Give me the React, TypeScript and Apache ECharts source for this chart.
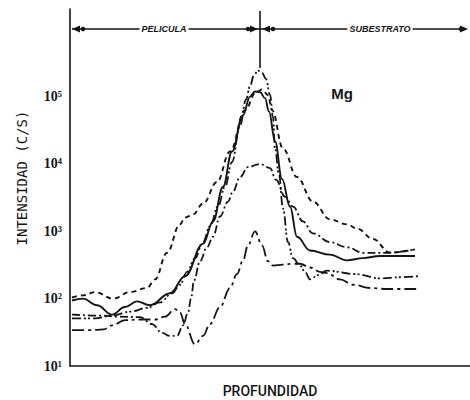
import React, { useEffect, useRef } from "react";
import * as echarts from "echarts";

// Depth (arbitrary units, 0-100) and intensity (counts/s) for each profile
const solidDepth = [0.5, 3.25, 6.75, 10.5, 13.75, 16.75, 20, 25, 28.75, 33.25, 35.75, 38.25, 40.5, 43.25, 45, 46.25, 47.5, 48.75, 49.75, 51.25, 53, 55, 56.75, 60, 65, 69.25, 73.25, 77.5, 86.25];
const solidCounts = [94, 100, 80, 58, 75, 91, 80, 120, 215, 650, 1400, 4600, 15300, 53000, 100000, 119000, 117000, 95000, 60000, 21800, 6000, 2330, 830, 520, 450, 370, 400, 430, 430];

const dashDepth = [0.5, 3.25, 6.25, 10.75, 15, 19.25, 21.25, 24.25, 27.5, 28.75, 30.75, 33.25, 36.75, 40, 43.75, 46.5, 48, 49.5, 50.5, 53.25, 56.75, 60.75, 65, 69.25, 71.75, 75.75, 80, 86.25];
const dashCounts = [104, 112, 125, 100, 125, 144, 193, 480, 1270, 1600, 1780, 2580, 5400, 15300, 63000, 115000, 128000, 105000, 63000, 17000, 6400, 2760, 1500, 1270, 1100, 770, 480, 540];

const dotDashDepth = [0.5, 7.5, 12.5, 17.5, 20.5, 23, 25, 26.75, 28.25, 29.5, 30.25, 31, 32.5, 34.25, 35.75, 37.5, 39.5, 40.75, 42.5, 44.5, 47.5, 50, 51.5, 53.75, 55.75, 58.25, 60.75, 65, 69.25, 73.25, 79.25, 86.25];
const dotDashCounts = [58, 56, 54, 53, 42, 31, 28, 28, 40, 62, 100, 186, 360, 580, 830, 1660, 2760, 3900, 6400, 9000, 10000, 8700, 5800, 3270, 2330, 1400, 930, 690, 580, 480, 480, 540];

const twoDotDepth = [0.5, 6.25, 10.5, 15, 19.25, 22.5, 25.5, 27.5, 29.25, 31.25, 33.25, 35, 37, 38.75, 40.5, 42.5, 44, 45, 46, 47, 48, 49, 50, 50.75, 51.25, 52.25, 53.25, 54.5, 55.75, 57.5, 58.75, 60, 62, 64.25, 71.25, 77.5, 82.5, 87];
const twoDotCounts = [51, 51, 56, 64, 73, 88, 120, 161, 250, 400, 690, 1190, 2330, 4600, 10700, 37000, 90000, 143000, 210000, 243000, 226000, 183000, 107000, 49000, 17000, 6900, 2180, 690, 400, 310, 250, 193, 223, 260, 232, 200, 208, 215];

const longDashDepth = [0.5, 5, 8.5, 10.5, 13.75, 17.5, 21.25, 23.75, 26.25, 27.5, 28.75, 31.25, 33.25, 35, 37.5, 40, 41.75, 43.25, 44.5, 46.25, 48, 49.5, 50.75, 53.25, 55.75, 57.5, 60, 62.5, 64.25, 67.5, 70.75, 75, 79.25, 86.75];
const longDashCounts = [34, 34, 35, 40, 48, 49, 49, 54, 70, 62, 42, 21, 28, 42, 75, 144, 232, 370, 620, 1000, 620, 360, 310, 320, 330, 330, 290, 250, 240, 193, 161, 144, 139, 139];

const yTickLabels: Record<number, string> = { 1: "10¹", 2: "10²", 3: "10³", 4: "10⁴", 5: "10⁵" };

const zip = (xs: number[], ys: number[]) => xs.map((x, i) => [x, ys[i]]);

export default function App() {
  const ref = useRef<HTMLDivElement>(null);
  useEffect(() => {
    if (!ref.current) return;
    const chart = echarts.init(ref.current, null, { renderer: "svg" });
    const ink = "#151515";
    const mk = (name: string, xs: number[], ys: number[], type: any, width = 1.8) => ({
      name,
      type: "line",
      data: zip(xs, ys),
      smooth: 0.4,
      smoothMonotone: "x",
      symbol: "none",
      lineStyle: { color: ink, width, type },
    });
    const arrow = (tip: number, dir: number) => ({
      type: "polygon",
      shape: { points: [[tip, 29], [tip - dir * 8, 25.5], [tip - dir * 8, 32.5]] },
      style: { fill: ink },
    });
    const dot = (cx: number) => ({ type: "circle", shape: { cx, cy: 29, r: 2.3 }, style: { fill: ink } });
    chart.setOption({
      animation: false,
      backgroundColor: "#fff",
      grid: { left: 70, right: 0, top: 9, bottom: 34 },
      xAxis: {
        type: "value",
        min: 0,
        max: 100,
        axisLine: { show: true, lineStyle: { color: ink, width: 1.6 } },
        axisTick: { show: false },
        axisLabel: { show: false },
        splitLine: { show: false },
      },
      yAxis: {
        type: "log",
        logBase: 10,
        min: 10,
        max: 2000000,
        axisLine: { show: true, lineStyle: { color: ink, width: 1.6 } },
        axisTick: { show: false },
        splitLine: { show: false },
        axisLabel: {
          margin: 8,
          color: ink,
          fontFamily: "Liberation Serif",
          fontWeight: "bold",
          fontSize: 14,
          formatter: (v: number) => {
            const e = Math.round(Math.log10(v));
            return Math.abs(Math.log10(v) - e) < 1e-6 && yTickLabels[e] ? yTickLabels[e] : "";
          },
        },
      },
      series: [
        mk("solid", solidDepth, solidCounts, "solid", 1.9),
        mk("dash", dashDepth, dashCounts, [5, 4], 1.9),
        mk("dotdash", dotDashDepth, dotDashCounts, [8, 3, 2, 3], 1.8),
        mk("twodot", twoDotDepth, twoDotCounts, [9, 3, 2, 2, 2, 3], 1.8),
        mk("longdash", longDashDepth, longDashCounts, [12, 4, 3, 4], 1.8),
      ],
      graphic: [
        { type: "line", shape: { x1: 72, y1: 29, x2: 466, y2: 29 }, style: { stroke: ink, lineWidth: 1.6 } },
        { type: "line", shape: { x1: 260, y1: 11, x2: 260, y2: 68 }, style: { stroke: ink, lineWidth: 1.6 } },
        arrow(72, -1),
        dot(83),
        arrow(258, 1),
        dot(248),
        arrow(262, -1),
        dot(273),
        arrow(468, 1),
        dot(461),
        {
          type: "text",
          x: 164,
          y: 29,
          style: {
            text: "PELICULA",
            align: "center",
            verticalAlign: "middle",
            font: "italic bold 9px 'Liberation Sans'",
            fill: ink,
            backgroundColor: "#fff",
            padding: [0, 2],
          },
        },
        {
          type: "text",
          x: 380,
          y: 29,
          style: {
            text: "SUBESTRATO",
            align: "center",
            verticalAlign: "middle",
            font: "italic bold 9px 'Liberation Sans'",
            fill: ink,
            backgroundColor: "#fff",
            padding: [0, 2],
          },
        },
        {
          type: "text",
          x: 342,
          y: 93,
          style: { text: "Mg", align: "center", verticalAlign: "middle", font: "bold 15px 'Liberation Sans'", fill: ink },
        },
        {
          type: "text",
          x: 22,
          y: 178,
          rotation: Math.PI / 2,
          style: {
            text: "INTENSIDAD (C/S)",
            align: "center",
            verticalAlign: "middle",
            font: "14px 'DejaVu Sans Mono'",
            fill: ink,
          },
        },
        {
          type: "text",
          x: 270,
          y: 391,
          style: { text: "PROFUNDIDAD", align: "center", verticalAlign: "middle", font: "500 14px Roboto", fill: ink },
        },
      ],
    });
    return () => chart.dispose();
  }, []);
  return <div ref={ref} style={{ width: 470, height: 400, position: "absolute", left: 0, top: 0 }} />;
}
